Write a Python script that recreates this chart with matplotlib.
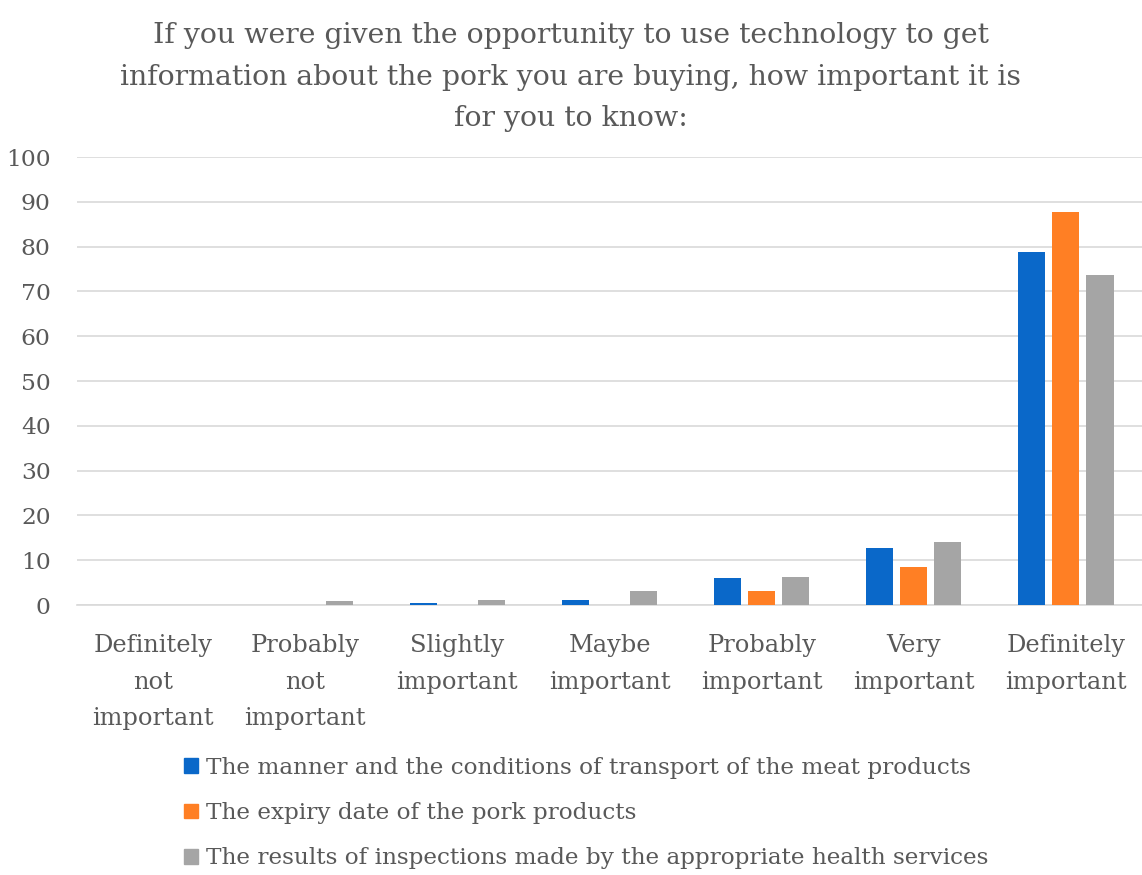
import matplotlib
matplotlib.use("Agg")
import matplotlib.pyplot as plt
import numpy as np
from matplotlib.patches import Patch

categories = ["Definitely\nnot\nimportant", "Probably\nnot\nimportant", "Slightly\nimportant",
              "Maybe\nimportant", "Probably\nimportant", "Very\nimportant", "Definitely\nimportant"]
series_names = ["The manner and the conditions of transport of the meat products",
                "The expiry date of the pork products",
                "The results of inspections made by the appropriate health services"]
transport = [0, 0, 0.4, 1.1, 6.0, 12.7, 78.9]
expiry = [0, 0, 0, 0, 3.1, 8.5, 87.8]
inspections = [0, 0.9, 1.1, 3.1, 6.25, 14.1, 73.6]
colors = ["#0A68C9", "#FF7F24", "#A5A5A5"]
title = ("If you were given the opportunity to use technology to get\n"
         "information about the pork you are buying, how important it is\n"
         "for you to know:")

plt.rcParams['font.family'] = ['DejaVu Serif']
txt = "#595959"

fig = plt.figure(figsize=(11.42, 8.75), dpi=100)
ax = fig.add_axes([77/1142, 1-605/875, 1-77/1142, (605-157)/875])

x = np.arange(len(categories))
w = 0.178
off = 0.224
for i, (vals, c) in enumerate(zip([transport, expiry, inspections], colors)):
    ax.bar(x + (i-1)*off, vals, width=w, color=c, zorder=3)

ax.set_xlim(-0.5, 6.5)
ax.set_ylim(0, 100)
ax.set_yticks(range(0, 101, 10))
ax.yaxis.grid(True, color="#D9D9D9", linewidth=1.2, zorder=0)
for s in ["top", "right", "left"]:
    ax.spines[s].set_visible(False)
ax.spines["bottom"].set_color("#D9D9D9")
ax.spines["bottom"].set_linewidth(1.2)
ax.tick_params(axis="both", length=0, colors=txt)
ax.tick_params(axis="y", pad=19, labelsize=16.8)
ax.set_xticks(x)
ax.set_xticklabels(categories, linespacing=1.75, va="top", fontsize=17.4)
ax.tick_params(axis="x", pad=21)

fig.text(571/1142, 1-22/875, title, ha="center", va="top", fontsize=20.4, color=txt, linespacing=1.70)

handles = [Patch(color=c) for c in colors]
fig.legend(handles, series_names, loc="upper left", bbox_to_anchor=(184/1142, 1-757/875),
           frameon=False, fontsize=16.7, labelcolor=txt, handlelength=0.6, handleheight=0.6,
           handletextpad=0.35, labelspacing=1.0, borderaxespad=0, borderpad=0)

fig.savefig("out.png", dpi=100)
